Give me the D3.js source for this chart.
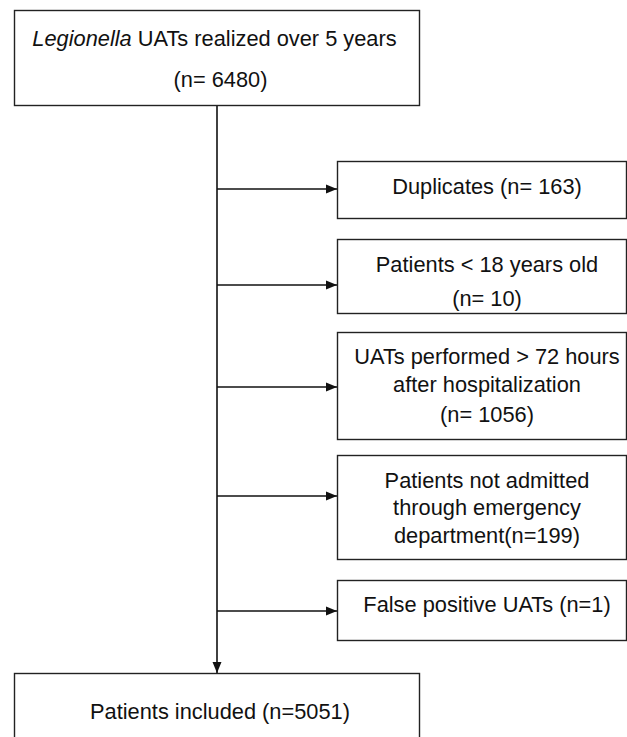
<!DOCTYPE html>
<html>
<head>
<meta charset="utf-8">
<script src="https://cdn.jsdelivr.net/npm/d3@7"></script>
<style>
  body { margin: 0; background: #fff; }
  svg text { font-family: "Liberation Sans", Arial, sans-serif; font-size: 21.8px; fill: #111; }
</style>
</head>
<body>
<div id="chart"></div>
<script>
// flow chart content
var topLines = ["UATs realized over 5 years", "(n= 6480)"];
var topItalic = "Legionella";
var exclusionLines = [
    ["Duplicates (n= 163)"],
    ["Patients < 18 years old", "(n= 10)"],
    ["UATs performed > 72 hours", "after hospitalization", "(n= 1056)"],
    ["Patients not admitted", "through emergency", "department(n=199)"],
    ["False positive UATs (n=1)"]
];
var finalLines = ["Patients included (n=5051)"];

// layout of the boxes (pixels)
var W = 627, H = 737;
var spineX = 217;
var topBox = { x0: 14, x1: 419, y0: 10, y1: 105, base: [46, 87] };
var sideX0 = 337, sideX1 = 626, sideTextX = 487;
var sideBoxes = [
    { y0: 161, y1: 218, arrow: 189, base: [194] },
    { y0: 239, y1: 313, arrow: 285, base: [272, 306] },
    { y0: 332, y1: 439, arrow: 387, base: [364, 392, 422] },
    { y0: 455, y1: 559, arrow: 496, base: [488, 515, 543] },
    { y0: 580, y1: 640, arrow: 611, base: [612] }
];
var finalBox = { x0: 14, x1: 419, y0: 673, y1: 760, base: [719] };

var svg = d3.select('#chart')
    .append('svg')
    .attr('width', W)
    .attr('height', H);

svg.append('defs').append('marker')
    .attr('id', 'arrow')
    .attr('viewBox', '0 0 11 10')
    .attr('refX', 11)
    .attr('refY', 5)
    .attr('markerWidth', 11)
    .attr('markerHeight', 10)
    .attr('markerUnits', 'userSpaceOnUse')
    .attr('orient', 'auto')
    .append('path')
    .attr('d', 'M0,0.5 L11,5 L0,9.5 Z')
    .style('fill', '#111');

function box(x0, x1, y0, y1) {
    svg.append('rect')
        .attr('x', x0 + 0.5)
        .attr('y', y0 + 0.5)
        .attr('width', x1 - x0)
        .attr('height', y1 - y0)
        .style('fill', '#fff')
        .style('stroke', '#222')
        .style('stroke-width', 1.4);
}

// connectors
svg.append('line')
    .attr('x1', spineX).attr('x2', spineX)
    .attr('y1', topBox.y1).attr('y2', finalBox.y0)
    .attr('marker-end', 'url(#arrow)')
    .style('stroke', '#111').style('stroke-width', 1.6);

svg.selectAll('.branch')
    .data(sideBoxes)
    .enter().append('line')
    .attr('class', 'branch')
    .attr('x1', spineX)
    .attr('x2', sideX0)
    .attr('y1', function(d) { return d.arrow; })
    .attr('y2', function(d) { return d.arrow; })
    .attr('marker-end', 'url(#arrow)')
    .style('stroke', '#111').style('stroke-width', 1.6);

// top box
box(topBox.x0, topBox.x1, topBox.y0, topBox.y1);
var cx = (topBox.x0 + topBox.x1) / 2;
var t1 = svg.append('text')
    .attr('x', cx - 2).attr('y', topBox.base[0])
    .attr('text-anchor', 'middle');
t1.append('tspan').style('font-style', 'italic').text(topItalic);
t1.append('tspan').text(' ' + topLines[0]);
svg.append('text')
    .attr('x', cx + 4).attr('y', topBox.base[1])
    .attr('text-anchor', 'middle')
    .text(topLines[1]);

// exclusion boxes
sideBoxes.forEach(function(b, i) {
    box(sideX0, sideX1, b.y0, b.y1);
    svg.selectAll('.ex' + i)
        .data(exclusionLines[i])
        .enter().append('text')
        .attr('class', 'ex' + i)
        .attr('x', sideTextX)
        .attr('y', function(d, j) { return b.base[j]; })
        .attr('text-anchor', 'middle')
        .text(function(d) { return d; });
});

// final box
box(finalBox.x0, finalBox.x1, finalBox.y0, finalBox.y1);
svg.selectAll('.fin')
    .data(finalLines)
    .enter().append('text')
    .attr('class', 'fin')
    .attr('x', 220)
    .attr('y', function(d, j) { return finalBox.base[j]; })
    .attr('text-anchor', 'middle')
    .text(function(d) { return d; });
</script>
</body>
</html>
